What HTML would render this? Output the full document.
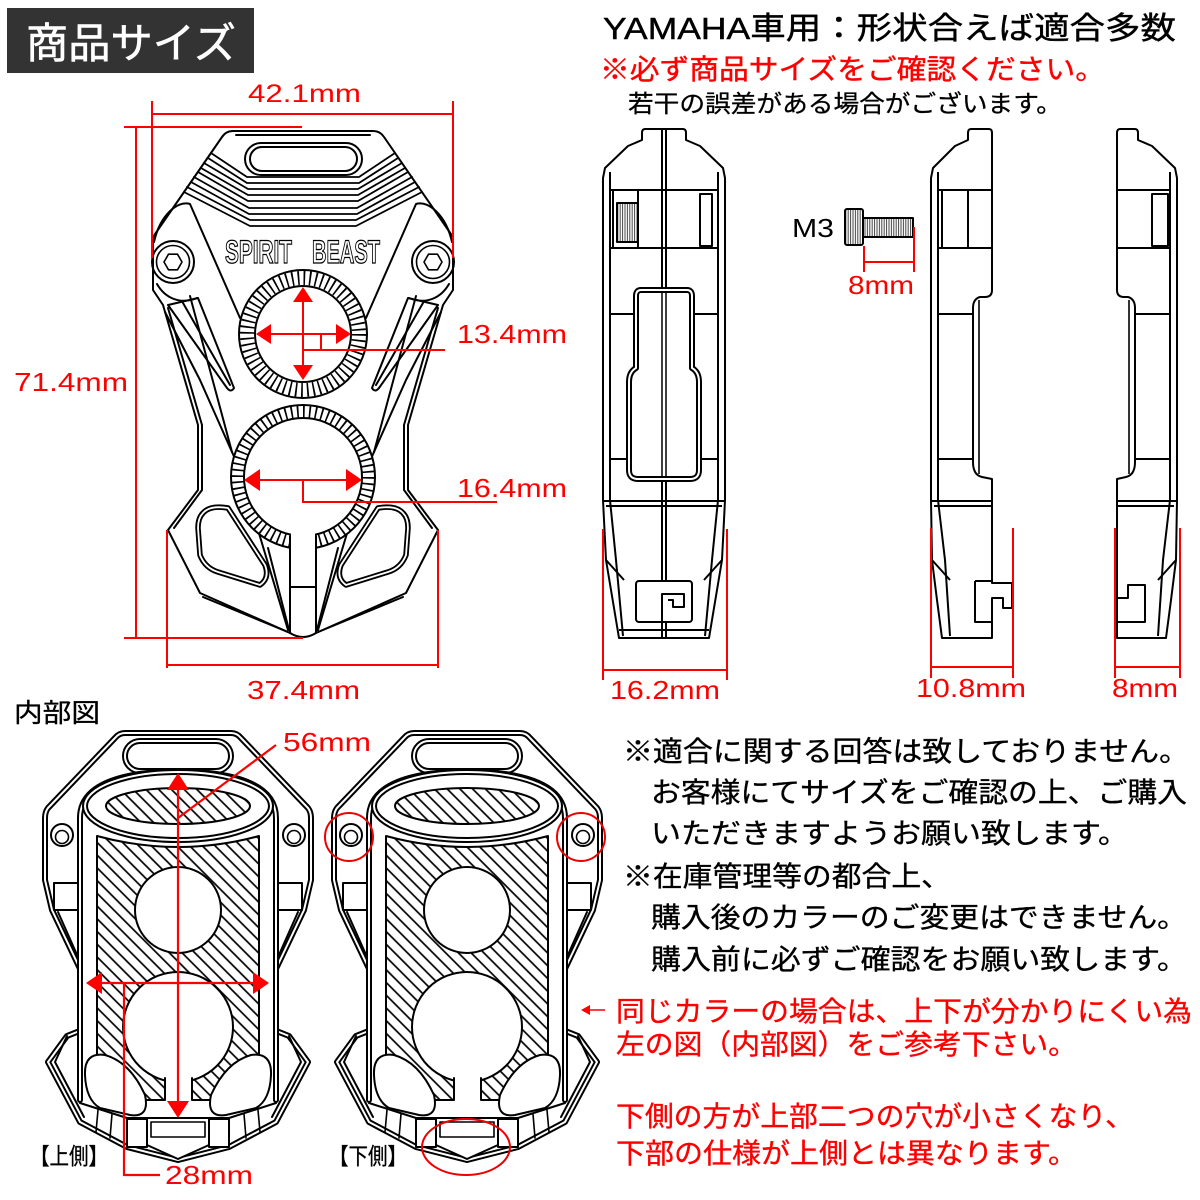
<!DOCTYPE html>
<html><head><meta charset="utf-8">
<style>
html,body{margin:0;padding:0;background:#fff;}
svg{display:block;}
.j{font-family:"Liberation Sans","Noto Sans CJK JP",sans-serif;}
.l{font-family:"Liberation Sans",sans-serif;}
</style></head><body>
<svg width="1200" height="1200" viewBox="0 0 1200 1200" xmlns="http://www.w3.org/2000/svg">
<defs>
<pattern id="h" width="9" height="9" patternUnits="userSpaceOnUse" patternTransform="rotate(-45)">
<rect width="9" height="9" fill="#fff"/>
<line x1="4" y1="0" x2="4" y2="9" stroke="#000" stroke-width="1.7"/>
</pattern>
<pattern id="kn" width="2.4" height="10" patternUnits="userSpaceOnUse">
<rect width="2.4" height="10" fill="#fff"/>
<line x1="1" y1="0" x2="1" y2="10" stroke="#444" stroke-width="1"/>
</pattern>

<g id="iv" stroke-linejoin="round" stroke-linecap="round">
 <path d="M178,733 L125,733 Q119,733 115,738 L48,808 Q45,812 45,818 L45,880 L52,910 L82,973 L82,1030 L67,1036 L48,1062 L80,1122 L127,1147 L178,1160 L229,1147 L276,1122 L308,1062 L289,1036 L274,1030 L274,973 L304,910 L311,880 L311,818 Q311,812 308,808 L241,738 Q237,733 231,733 Z" fill="#fff" stroke="#000" stroke-width="6"/>
 <path d="M178,733 L125,733 Q119,733 115,738 L48,808 Q45,812 45,818 L45,880 L52,910 L82,973 L82,1030 L67,1036 L48,1062 L80,1122 L127,1147 L178,1160 L229,1147 L276,1122 L308,1062 L289,1036 L274,1030 L274,973 L304,910 L311,880 L311,818 Q311,812 308,808 L241,738 Q237,733 231,733 Z" fill="none" stroke="#fff" stroke-width="2"/>
 <rect x="125" y="741" width="106" height="30" rx="15" fill="#fff" stroke="#000" stroke-width="6"/>
 <rect x="125" y="741" width="106" height="30" rx="15" fill="none" stroke="#fff" stroke-width="2"/>
 <circle cx="62" cy="835" r="11" fill="#fff" stroke="#000" stroke-width="2"/>
 <circle cx="62" cy="837" r="6.5" fill="#fff" stroke="#000" stroke-width="1.6"/>
 <circle cx="294" cy="835" r="11" fill="#fff" stroke="#000" stroke-width="2"/>
 <circle cx="294" cy="837" r="6.5" fill="#fff" stroke="#000" stroke-width="1.6"/>
 <rect x="54" y="883" width="26" height="27" fill="none" stroke="#000" stroke-width="2"/>
 <rect x="276" y="883" width="26" height="27" fill="none" stroke="#000" stroke-width="2"/>
 <path d="M58,912 L86,975 M298,912 L270,975" stroke="#000" stroke-width="2" fill="none"/>
 <path d="M67,1036 L55,1062 L84,1117 M289,1036 L301,1062 L272,1117" stroke="#000" stroke-width="2" fill="none"/>
 <path d="M80,1100 L80,818 Q80,773 178,771 Q276,773 276,818 L276,1100" fill="#fff" stroke="#000" stroke-width="6"/>
 <path d="M80,1100 L80,818 Q80,773 178,771 Q276,773 276,818 L276,1100" fill="none" stroke="#fff" stroke-width="2"/>
 <path d="M97,836 Q178,858 259,836 L259,1100 L97,1100 Z" fill="url(#h)" stroke="#000" stroke-width="2"/>
 <ellipse cx="178" cy="806" rx="93" ry="34" fill="#fff" stroke="#000" stroke-width="6"/>
 <ellipse cx="178" cy="806" rx="93" ry="34" fill="none" stroke="#fff" stroke-width="2"/>
 <ellipse cx="178" cy="806" rx="72" ry="18" fill="url(#h)" stroke="#000" stroke-width="2"/>
 <circle cx="178" cy="910" r="43" fill="#fff" stroke="#000" stroke-width="2"/>
 <circle cx="178" cy="1027" r="55" fill="#fff" stroke="#000" stroke-width="2"/>
 <rect x="165" y="1060" width="27" height="45" fill="#fff"/>
 <path d="M165,1078 V1100 M192,1078 V1100" stroke="#000" stroke-width="2"/>
 <path d="M85,1075 Q84,1052 105,1055 Q130,1062 145,1095 Q150,1118 130,1115 L100,1108 Q86,1100 85,1075 Z" fill="#fff" stroke="#000" stroke-width="2"/>
 <path d="M271,1075 Q272,1052 251,1055 Q226,1062 211,1095 Q206,1118 226,1115 L256,1108 Q270,1100 271,1075 Z" fill="#fff" stroke="#000" stroke-width="2"/>
 <path d="M80,1103 L127,1118 L229,1118 L276,1103" fill="none" stroke="#000" stroke-width="2"/>
 <path d="M98,1110 L96,1132 M112,1114 L110,1138 M244,1114 L246,1138 M258,1110 L260,1132" stroke="#000" stroke-width="1.6"/>
 <rect x="127" y="1119" width="20" height="28" fill="#fff" stroke="#000" stroke-width="2"/>
 <rect x="209" y="1119" width="20" height="28" fill="#fff" stroke="#000" stroke-width="2"/>
 <path d="M147,1118 L209,1118 L209,1145 L178,1159 L147,1145 Z" fill="#fff" stroke="#000" stroke-width="2"/>
 <path d="M151,1122 L205,1122 L205,1137 L151,1137 Z" fill="none" stroke="#000" stroke-width="1.6"/>
</g>
</defs>

<rect width="1200" height="1200" fill="#fff"/>

<rect x="7" y="8" width="247" height="65" fill="#333"/>
<text x="26" y="58" class="j" font-size="42" fill="#fff" stroke="#fff" stroke-width="0.6" textLength="210" lengthAdjust="spacingAndGlyphs">商品サイズ</text>

<text x="603" y="39" class="j" font-size="31" fill="#000" stroke="#000" stroke-width="0.4" textLength="573" lengthAdjust="spacingAndGlyphs">YAMAHA車用：形状合えば適合多数</text>
<text x="600" y="79" class="j" font-size="28" fill="#f00" stroke="#f00" stroke-width="0.4" textLength="505" lengthAdjust="spacingAndGlyphs">※必ず商品サイズをご確認ください。</text>
<text x="628" y="112" class="j" font-size="24" fill="#000" stroke="#000" stroke-width="0.3" textLength="434" lengthAdjust="spacingAndGlyphs">若干の誤差がある場合がございます。</text>

<!-- FRONT VIEW -->
<g fill="none" stroke="#000" stroke-width="2" stroke-linejoin="round" stroke-linecap="round">
 <path d="M233,131 L373,131 Q380,131 384,137 L453,237 L453,290 L443,305 L408,425 L408,490 L438,530 L406,593 L316,633 Q303,641 290,633 L200,593 L168,530 L198,490 L198,425 L163,305 L153,290 L153,237 L222,137 Q226,131 233,131 Z" fill="#fff"/>
 <path d="M236,135 L370,135 M168,308 L202,425 L202,490 L174,528 M438,308 L404,425 L404,490 L432,528"/>
 <rect x="245" y="143" width="117" height="32" rx="16"/>
 <rect x="250" y="147" width="107" height="24" rx="12"/>
 <g stroke-width="1.8">
 <polyline points="211,153 247,177 359,177 395,153"/>
 <polyline points="208,158 247,183 359,183 398,158"/>
 <polyline points="204,163 248,189 358,189 402,163"/>
 <polyline points="201,168 248,195 358,195 405,168"/>
 <polyline points="198,172 248,201 358,201 408,172"/>
 <polyline points="194,177 249,208 357,208 412,177"/>
 <polyline points="191,182 249,214 357,214 415,182"/>
 <polyline points="187,187 250,220 356,220 419,187"/>
 <polyline points="184,192 250,226 356,226 422,192"/>
 </g>
 <path d="M154,242 C160,215 178,200 190,204 L240,318 M452,242 C446,215 428,200 416,204 L366,318"/>
 <path d="M157,284 C165,298 180,305 197,298 M449,284 C441,298 426,305 409,298"/>
 <circle cx="173" cy="262" r="21"/>
 <circle cx="173" cy="262" r="16.5" stroke-width="1.6"/>
 <polygon points="182,262 177.5,269.8 168.5,269.8 164,262 168.5,254.2 177.5,254.2" stroke-width="1.6"/>
 <circle cx="433" cy="262" r="21"/>
 <circle cx="433" cy="262" r="16.5" stroke-width="1.6"/>
 <polygon points="442,262 437.5,269.8 428.5,269.8 424,262 428.5,254.2 437.5,254.2" stroke-width="1.6"/>
 <path d="M168,305 L198,298 L234,388 Q231,393 227,388 Z M183,303 L230,385"/>
 <path d="M438,305 L408,298 L372,388 Q375,393 379,388 Z M423,303 L376,385"/>
 <polyline points="165,312 200,380 240,470 288,630"/>
 <polyline points="441,312 406,380 366,470 318,630"/>
 <path d="M190,296 L232,452 M416,296 L374,452"/>
 <path d="M268,548 L289,630 M338,548 L317,630"/>
 <path d="M203,597 L288,632 M403,597 L318,632"/>
 <path d="M290,530 V633 M316,530 V633 M290,587 H316"/>
 <path d="M203,513 Q210,505 228,508 L265,565 Q270,578 260,585 L218,572 Q205,568 200,555 L198,528 Q198,518 203,513 Z" stroke-width="5.5" fill="#fff"/>
 <path d="M203,513 Q210,505 228,508 L265,565 Q270,578 260,585 L218,572 Q205,568 200,555 L198,528 Q198,518 203,513 Z" stroke="#fff" stroke-width="1.8"/>
 <path d="M403,513 Q396,505 378,508 L341,565 Q336,578 346,585 L388,572 Q401,568 406,555 L408,528 Q408,518 403,513 Z" stroke-width="5.5" fill="#fff"/>
 <path d="M403,513 Q396,505 378,508 L341,565 Q336,578 346,585 L388,572 Q401,568 406,555 L408,528 Q408,518 403,513 Z" stroke="#fff" stroke-width="1.8"/>
 <circle cx="303" cy="334" r="64" fill="#fff"/>
 <circle cx="303" cy="334" r="56" stroke-width="14" stroke-dasharray="1.7 4.17" stroke-linecap="butt"/>
 <circle cx="303" cy="334" r="48" fill="#fff"/>
 <circle cx="303" cy="477" r="72" fill="#fff"/>
 <circle cx="303" cy="477" r="65.5" stroke-width="13" stroke-dasharray="1.7 4.35" stroke-linecap="butt"/>
 <circle cx="303" cy="477" r="59" fill="#fff"/>
 <rect x="291" y="528" width="24" height="26" fill="#fff" stroke="none"/>
 <path d="M290,536 V552 M316,536 V552"/>
</g>
<text x="225" y="263" class="l" font-size="32" font-weight="bold" fill="#fff" stroke="#000" stroke-width="1.3" textLength="67" lengthAdjust="spacingAndGlyphs">SPIRIT</text>
<text x="312" y="263" class="l" font-size="32" font-weight="bold" fill="#fff" stroke="#000" stroke-width="1.3" textLength="68" lengthAdjust="spacingAndGlyphs">BEAST</text>

<g stroke="#f00" stroke-width="2" fill="none">
 <path d="M152,101 V258 M453,101 V258 M152,114 H453"/>
 <path d="M136,127 V638 M124,127 H302 M124,638 H303"/>
 <path d="M167,530 V668 M438,530 V668 M167,665 H438"/>
 <path d="M303,300 V367 M269,334 H338 M321,334 V350 M303,350 H445"/>
 <path d="M258,480 H348 M303,480 V502 H497"/>
</g>
<g fill="#f00">
 <polygon points="303,287 293,302 313,302"/>
 <polygon points="303,380 293,365 313,365"/>
 <polygon points="256,334 271,324 271,344"/>
 <polygon points="351,334 336,324 336,344"/>
 <polygon points="244,480 260,469 260,491"/>
 <polygon points="362,480 346,469 346,491"/>
</g>
<g class="l" font-size="26" fill="#f00">
 <text x="248" y="102" font-size="25" textLength="113" lengthAdjust="spacingAndGlyphs">42.1mm</text>
 <text x="14" y="391" textLength="114" lengthAdjust="spacingAndGlyphs">71.4mm</text>
 <text x="457" y="343" textLength="110" lengthAdjust="spacingAndGlyphs">13.4mm</text>
 <text x="457" y="497" textLength="110" lengthAdjust="spacingAndGlyphs">16.4mm</text>
 <text x="247" y="699" textLength="113" lengthAdjust="spacingAndGlyphs">37.4mm</text>
 <text x="610" y="699" textLength="110" lengthAdjust="spacingAndGlyphs">16.2mm</text>
 <text x="848" y="294" textLength="66" lengthAdjust="spacingAndGlyphs">8mm</text>
 <text x="916" y="697" textLength="110" lengthAdjust="spacingAndGlyphs">10.8mm</text>
 <text x="1112" y="697" textLength="66" lengthAdjust="spacingAndGlyphs">8mm</text>
 <text x="283" y="751" textLength="88" lengthAdjust="spacingAndGlyphs">56mm</text>
 <text x="165" y="1184" textLength="88" lengthAdjust="spacingAndGlyphs">28mm</text>
</g>

<!-- SIDE VIEWS -->
<g fill="none" stroke="#000" stroke-width="2" stroke-linejoin="round">
 <path d="M645,129 L683,129 Q686,129 686,133 L686,140 L700,146 L723,168 L725,178 L725,500 L722,560 L709,638 L619,638 L606,560 L603,500 L603,178 L605,168 L628,146 L642,140 L642,133 Q642,129 645,129 Z" fill="#fff"/>
 <path d="M662,129 V638 M666,129 V638"/>
 <path d="M610,172 V500 L616,560 L623,636 M718,172 V500 L712,560 L705,636"/>
 <path d="M610,190 H718 M610,248 H718"/>
 <rect x="613" y="190" width="25" height="58"/>
 <rect x="617" y="203" width="21" height="39" fill="url(#kn)"/>
 <rect x="700" y="194" width="12" height="52"/>
 <path d="M610,314 H636 M692,314 H718 M610,459 H632 M700,459 H718 M603,501 H725 M606,506 H722"/>
 <path d="M641,290 L687,290 Q692,290 692,296 L692,368 Q699,372 699,382 L699,470 Q699,479 690,479 L638,479 Q629,479 629,470 L629,382 Q629,372 636,368 L636,296 Q636,290 641,290 Z" stroke-width="6" fill="#fff"/>
 <path d="M641,290 L687,290 Q692,290 692,296 L692,368 Q699,372 699,382 L699,470 Q699,479 690,479 L638,479 Q629,479 629,470 L629,382 Q629,372 636,368 L636,296 Q636,290 641,290 Z" stroke="#fff" stroke-width="2"/>
 <path d="M662,292 V477 M666,292 V477" stroke-width="1.5"/>
 <path d="M606,560 L624,580 M722,560 L704,580"/>
 <rect x="636" y="581" width="56" height="41" rx="3" fill="#fff"/>
 <path d="M662,622 L662,594 L684,594 L684,607 L673,607 L673,600 L668,600"/>
 <path d="M619,630 H709"/>

 <rect x="845" y="209" width="18" height="36" rx="2" fill="url(#kn)"/>
 <rect x="863" y="218" width="50" height="19" fill="url(#kn)"/>

 <path d="M971,129 L989,129 Q992,129 992,133 L992,290 Q992,297 985,297 L980,297 Q973,299 973,308 L973,462 Q973,475 982,477 L992,479 L992,583 L1012,583 L1012,608 L1003,608 L1003,598 L992,598 L992,638 L942,638 L937,600 L932,560 L931,500 L931,178 L933,168 L955,146 L968,140 L968,133 Q968,129 971,129 Z" fill="#fff"/>
 <path d="M938,172 V500 L945,560 L950,636"/>
 <path d="M938,190 H992 M938,248 H992"/>
 <rect x="942" y="190" width="26" height="58"/>
 <path d="M938,314 H973 M938,459 H973 M931,501 H992 M934,506 H992"/>
 <path d="M979,300 V474" stroke-width="1.6"/>
 <path d="M975,581 V622 H992 M975,581 H992"/>
 <path d="M932,560 L950,580"/>

 <path d="M1120,129 L1135,129 Q1138,129 1138,133 L1138,140 L1152,146 L1175,168 L1177,178 L1177,500 L1176,560 L1171,600 L1166,638 L1117,638 L1117,479 L1126,477 Q1135,475 1135,462 L1135,308 Q1135,299 1128,297 L1124,297 Q1117,297 1117,290 L1117,133 Q1117,129 1120,129 Z" fill="#fff"/>
 <path d="M1170,172 V500 L1163,560 L1158,636"/>
 <path d="M1117,190 H1170 M1117,248 H1170"/>
 <rect x="1152" y="194" width="16" height="52"/>
 <path d="M1135,314 H1170 M1135,459 H1170 M1117,501 H1177 M1117,506 H1174"/>
 <path d="M1129,300 V474" stroke-width="1.6"/>
 <path d="M1117,598 L1128,598 L1128,585 L1145,585 L1145,622 L1117,622"/>
 <path d="M1176,560 L1158,580"/>
</g>
<text x="792" y="237" class="l" font-size="26" fill="#000" textLength="42" lengthAdjust="spacingAndGlyphs">M3</text>

<g stroke="#f00" stroke-width="2" fill="none">
 <path d="M603,529 V680 M727,529 V680 M603,670 H727"/>
 <path d="M864,246 V272 M914,227 V272 M864,262 H914"/>
 <path d="M931,528 V678 M1013,528 V678 M931,667 H1013"/>
 <path d="M1115,528 V678 M1180,528 V678 M1115,667 H1180"/>
</g>

<!-- INTERNAL VIEWS -->
<text x="14" y="722" class="j" font-size="26" fill="#000" stroke="#000" stroke-width="0.3" textLength="86" lengthAdjust="spacingAndGlyphs">内部図</text>
<use href="#iv"/>
<use href="#iv" x="289"/>

<g stroke="#f00" stroke-width="2.2" fill="none">
 <path d="M178,788 V1102"/>
 <path d="M178,818 L276,745"/>
 <path d="M100,983 H255"/>
 <path d="M124,983 V1175 H160"/>
</g>
<g fill="#f00">
 <polygon points="178,773 167,790 189,790"/>
 <polygon points="178,1118 167,1101 189,1101"/>
 <polygon points="86,983 102,972 102,994"/>
 <polygon points="269,983 253,972 253,994"/>
</g>
<g stroke="#e00" stroke-width="2" fill="none">
 <ellipse cx="349" cy="837" rx="24" ry="24"/>
 <ellipse cx="581" cy="837" rx="24" ry="24"/>
 <ellipse cx="466" cy="1147" rx="44" ry="28"/>
</g>
<text x="30" y="1164" class="j" font-size="23" fill="#000" stroke="#000" stroke-width="0.3" textLength="78" lengthAdjust="spacingAndGlyphs">【上側】</text>
<text x="329" y="1164" class="j" font-size="23" fill="#000" stroke="#000" stroke-width="0.3" textLength="78" lengthAdjust="spacingAndGlyphs">【下側】</text>

<g class="j" font-size="28" fill="#000" stroke="#000" stroke-width="0.35">
 <text x="623" y="761" textLength="566" lengthAdjust="spacingAndGlyphs">※適合に関する回答は致しておりません。</text>
 <text x="651" y="802" textLength="536" lengthAdjust="spacingAndGlyphs">お客様にてサイズをご確認の上、ご購入</text>
 <text x="651" y="843" textLength="477" lengthAdjust="spacingAndGlyphs">いただきますようお願い致します。</text>
 <text x="623" y="886" textLength="328" lengthAdjust="spacingAndGlyphs">※在庫管理等の都合上、</text>
 <text x="651" y="927" textLength="536" lengthAdjust="spacingAndGlyphs">購入後のカラーのご変更はできません。</text>
 <text x="651" y="969" textLength="536" lengthAdjust="spacingAndGlyphs">購入前に必ずご確認をお願い致します。</text>
</g>
<g class="j" font-size="28" fill="#f00" stroke="#f00" stroke-width="0.35">
 <text x="616" y="1021" textLength="576" lengthAdjust="spacingAndGlyphs">同じカラーの場合は、上下が分かりにくい為</text>
 <text x="616" y="1054" textLength="461" lengthAdjust="spacingAndGlyphs">左の図（内部図）をご参考下さい。</text>
 <text x="616" y="1126" textLength="518" lengthAdjust="spacingAndGlyphs">下側の方が上部二つの穴が小さくなり、</text>
 <text x="616" y="1163" textLength="461" lengthAdjust="spacingAndGlyphs">下部の仕様が上側とは異なります。</text>
</g>
<path d="M588,1010 H605" stroke="#f00" stroke-width="1.6"/>
<polygon points="581,1010 590,1005 590,1015" fill="#f00"/>
</svg>
</body></html>
